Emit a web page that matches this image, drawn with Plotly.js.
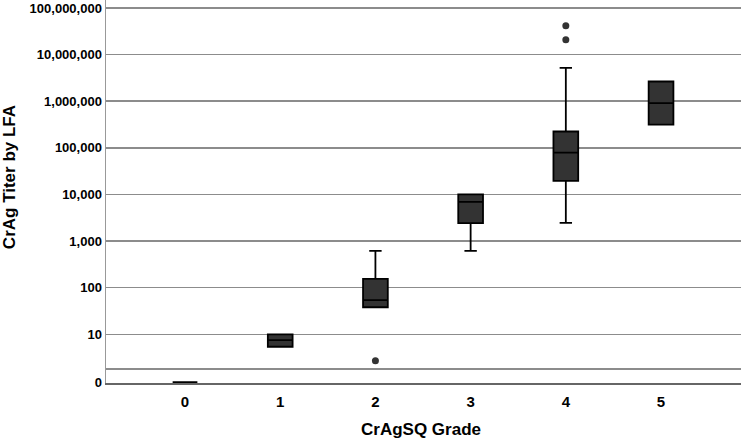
<!DOCTYPE html>
<html>
<head>
<meta charset="utf-8">
<script src="https://cdn.plot.ly/plotly-3.0.1.min.js"></script>
<style>html,body{margin:0;padding:0;background:#fff;}#chart{width:742px;height:441px;}</style>
</head>
<body>
<div id="chart"></div>
<script>
// Categories (CrAgSQ grade)
const grades = [0, 1, 2, 3, 4, 5];
// Box statistics (CrAg titer by LFA)
const lowerWhisker = [0, 5.4, 38, 615, 2450, 316000];
const q1Values     = [0, 5.4, 38, 2420, 19600, 316000];
const medians      = [0, 7.5, 54, 6900, 79000, 912000];
const q3Values     = [0, 10, 154, 10000, 224000, 2650000];
const upperWhisker = [0, 10, 615, 10000, 5220000, 2650000];
// Outliers
const outlierGrades = [2, 4, 4];
const outlierValues = [2.7, 20800000, 41700000];
// Y tick labels
const yTickValues = [0, 10, 100, 1000, 10000, 100000, 1000000, 10000000, 100000000];
const yTickLabels = ["0", "10", "100", "1,000", "10,000", "100,000", "1,000,000", "10,000,000", "100,000,000"];

// On the log axis a titer of 0 is drawn at the bottom "0" position
const ZERO_POS = 0.935;
const EXTRA_LINE = 1.82;
const mapZero = v => (v === 0 ? ZERO_POS : v);

const boxTrace = {
  type: 'box',
  x: grades,
  q1: q1Values.map(mapZero),
  median: medians.map(mapZero),
  q3: q3Values.map(mapZero),
  lowerfence: lowerWhisker.map(mapZero),
  upperfence: upperWhisker.map(mapZero),
  width: 0.26,
  whiskerwidth: 0.5,
  fillcolor: '#333333',
  line: {color: '#000000', width: 1.8},
  boxpoints: false,
  hoverinfo: 'skip',
  showlegend: false
};

const outlierTrace = {
  type: 'scatter',
  mode: 'markers',
  x: outlierGrades,
  y: outlierValues,
  marker: {color: '#333333', size: 7},
  showlegend: false,
  hoverinfo: 'skip'
};

const tickVals = [ZERO_POS, EXTRA_LINE].concat(yTickValues.slice(1));
const tickText = [yTickLabels[0], ''].concat(yTickLabels.slice(1));

const font = 'Liberation Sans, Arial, sans-serif';
const layout = {
  width: 742, height: 441,
  margin: {l: 106, r: 1, t: 0, b: 58},
  paper_bgcolor: '#ffffff',
  plot_bgcolor: '#ffffff',
  showlegend: false,
  xaxis: {
    range: [-0.83, 5.84],
    tickvals: grades,
    ticktext: grades.map(String),
    showgrid: false,
    zeroline: false,
    showline: true,
    linecolor: '#666666',
    linewidth: 1.5,
    ticks: '',
    ticklabelstandoff: 4,
    tickfont: {family: font, size: 15, color: '#000', weight: 'bold'}
  },
  yaxis: {
    type: 'log',
    range: [-0.045, 8.172],
    tickvals: tickVals,
    ticktext: tickText,
    showgrid: true,
    gridcolor: '#8c8c8c',
    gridwidth: 1.5,
    zeroline: false,
    showline: true,
    linecolor: '#999999',
    linewidth: 1.5,
    ticks: '',
    tickfont: {family: font, size: 13, color: '#000', weight: 'bold'}
  },
  annotations: [
    {text: 'CrAgSQ Grade', xref: 'paper', yref: 'paper', x: 0.496, y: -0.1227,
     xanchor: 'center', yanchor: 'middle', showarrow: false,
     font: {family: font, size: 17, color: '#000', weight: 'bold'}},
    {text: 'CrAg Titer by LFA', xref: 'paper', yref: 'paper', x: (9 - 106) / 635, y: 0.5375,
     xanchor: 'center', yanchor: 'middle', textangle: -90, showarrow: false,
     font: {family: font, size: 17, color: '#000', weight: 'bold'}}
  ]
};

Plotly.newPlot('chart', [boxTrace, outlierTrace], layout, {displayModeBar: false, staticPlot: true});
</script>
</body>
</html>
